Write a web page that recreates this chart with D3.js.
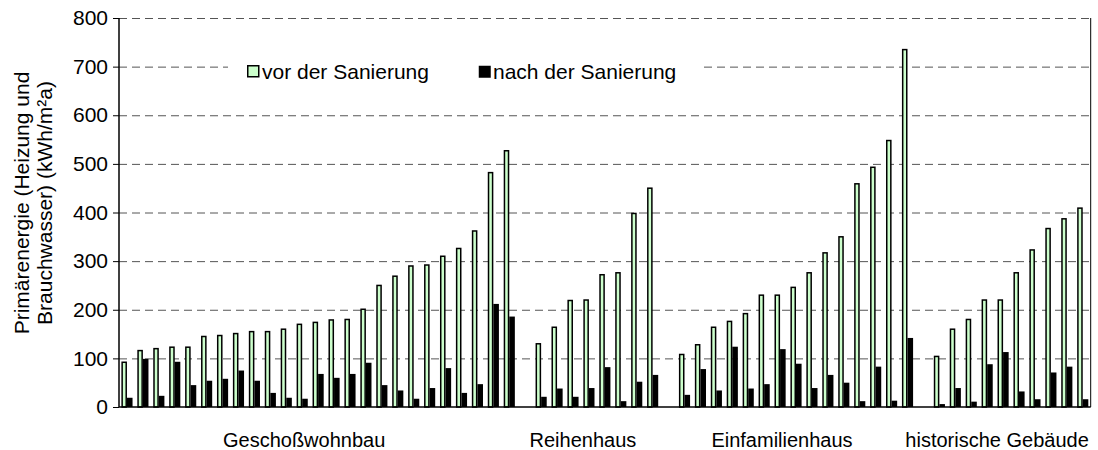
<html>
<head>
<meta charset="utf-8">
<script src="https://d3js.org/d3.v7.min.js"></script>
<style>
    body { margin: 0; background: #fff; }
    text { font-family: "Liberation Sans", Arial, sans-serif; fill: #000; }
</style>
</head>
<body>
<script>
// groups of buildings (kWh/m²a)
var groups = ["Geschoßwohnbau", "Reihenhaus", "Einfamilienhaus", "historische Gebäude"];

var geschoss_vor  = [92, 116, 120, 123, 123, 145, 147, 151, 155, 155, 160, 170, 174, 179, 180, 201, 250, 269, 290, 292, 310, 326, 362, 482, 527];
var geschoss_nach = [19, 99, 23, 93, 45, 54, 58, 75, 54, 29, 19, 17, 68, 60, 68, 91, 45, 34, 17, 39, 80, 29, 47, 212, 186];

var reihen_vor  = [130, 164, 219, 220, 272, 276, 398, 450];
var reihen_nach = [21, 38, 21, 39, 82, 12, 52, 66];

var einfam_vor  = [108, 128, 164, 176, 192, 230, 230, 246, 276, 317, 350, 459, 493, 548, 735];
var einfam_nach = [25, 78, 34, 124, 38, 47, 119, 89, 39, 66, 50, 12, 83, 13, 142];

var hist_vor  = [104, 160, 180, 220, 220, 276, 323, 367, 387, 409];
var hist_nach = [6, 39, 11, 88, 113, 32, 16, 71, 83, 16];

var yTicks = [0, 100, 200, 300, 400, 500, 600, 700, 800];
var seriesNames = ["vor der Sanierung", "nach der Sanierung"];

var vor = [geschoss_vor, reihen_vor, einfam_vor, hist_vor];
var nach = [geschoss_nach, reihen_nach, einfam_nach, hist_nach];

// one slot per building, an empty slot between groups
var slots = [];
var groupSpans = [];
vor.forEach(function(arr, g) {
    if (g > 0) slots.push(null);
    var start = slots.length;
    for (var i = 0; i < arr.length; i++) {
        slots.push({ vor: arr[i], nach: nach[g][i] });
    }
    groupSpans.push([start, slots.length - 1]);
});

var width = 1098, height = 450;
var plotL = 119, plotR = 1090.7, plotT = 18, plotB = 407;

var svg = d3.select("body").append("svg")
    .attr("width", width)
    .attr("height", height);

var x = d3.scaleBand()
    .domain(d3.range(slots.length))
    .range([plotL, plotR])
    .padding(0);

var y = d3.scaleLinear()
    .domain([0, 800])
    .range([plotB, plotT]);

var bw = x.step() * 0.35;

// dashed grid
svg.append("g").selectAll("line")
    .data(yTicks.filter(function(d) { return d > 0; }))
    .enter().append("line")
    .attr("x1", plotL).attr("x2", plotR)
    .attr("y1", function(d) { return y(d) + 0.5; })
    .attr("y2", function(d) { return y(d) + 0.5; })
    .attr("stroke", "#555")
    .attr("stroke-width", 1)
    .attr("stroke-dasharray", "8,5");

// bars
var bars = svg.append("g").selectAll("g")
    .data(slots.map(function(d, i) { return { i: i, d: d }; }).filter(function(s) { return s.d; }))
    .enter().append("g");

bars.append("rect")
    .attr("x", function(s) { return x(s.i) + x.bandwidth() / 2 - bw + 0.75; })
    .attr("y", function(s) { return y(s.d.vor); })
    .attr("width", bw - 1.5)
    .attr("height", function(s) { return y(0) - y(s.d.vor); })
    .attr("fill", "#ccffcc")
    .attr("stroke", "#000")
    .attr("stroke-width", 1.5);

bars.append("rect")
    .attr("x", function(s) { return x(s.i) + x.bandwidth() / 2; })
    .attr("y", function(s) { return y(s.d.nach); })
    .attr("width", bw)
    .attr("height", function(s) { return y(0) - y(s.d.nach); })
    .attr("fill", "#000");

// axes
var yAxis = d3.axisLeft(y).tickValues(yTicks).tickSize(6).tickPadding(5);
var ga = svg.append("g")
    .attr("transform", "translate(" + plotL + ",0)")
    .call(yAxis);
ga.select(".domain").remove();
ga.selectAll("line").attr("stroke", "#000");
ga.selectAll("text")
    .style("font-size", "21px")
    .style("font-family", "'Liberation Sans', Arial, sans-serif");

svg.append("line")
    .attr("x1", plotL).attr("x2", plotL)
    .attr("y1", plotT).attr("y2", plotB)
    .attr("stroke", "#000").attr("stroke-width", 1.5);
svg.append("line")
    .attr("x1", plotR).attr("x2", plotR)
    .attr("y1", plotT).attr("y2", plotB)
    .attr("stroke", "#000").attr("stroke-width", 1);
svg.append("line")
    .attr("x1", plotL).attr("x2", plotR)
    .attr("y1", plotB).attr("y2", plotB)
    .attr("stroke", "#000").attr("stroke-width", 1.5);

// group labels
svg.append("g").selectAll("text")
    .data(groups)
    .enter().append("text")
    .attr("x", function(d, i) {
        var sp = groupSpans[i];
        return (x(sp[0]) + x(sp[1]) + x.bandwidth()) / 2 - 14;
    })
    .attr("y", 447)
    .attr("text-anchor", "middle")
    .style("font-size", "20px")
    .text(function(d) { return d; });

// y title
var title = svg.append("text")
    .attr("transform", "translate(29,203) rotate(-90)")
    .attr("text-anchor", "middle")
    .style("font-size", "21px");
title.append("tspan").attr("x", 0).attr("dy", 0).text("Primärenergie (Heizung und");
title.append("tspan").attr("x", 0).attr("dy", 23).text("Brauchwasser) (kWh/m²a)");

// legend
var leg = svg.append("g");
leg.append("rect")
    .attr("x", 228).attr("y", 50)
    .attr("width", 472).attr("height", 42)
    .attr("fill", "#fff");
var legItems = leg.selectAll("g")
    .data(seriesNames)
    .enter().append("g")
    .attr("transform", function(d, i) { return "translate(" + (i === 0 ? 247 : 478) + ",0)"; });
legItems.append("rect")
    .attr("x", 0.75).attr("y", 65.75)
    .attr("width", function(d, i) { return i === 0 ? 11 : 12; })
    .attr("height", function(d, i) { return i === 0 ? 11 : 12; })
    .attr("fill", function(d, i) { return i === 0 ? "#ccffcc" : "#000"; })
    .attr("stroke", function(d, i) { return i === 0 ? "#000" : "none"; })
    .attr("stroke-width", 1.5);
legItems.append("text")
    .attr("x", 15).attr("y", 79)
    .style("font-size", "21px")
    .text(function(d) { return d; });
</script>
</body>
</html>
